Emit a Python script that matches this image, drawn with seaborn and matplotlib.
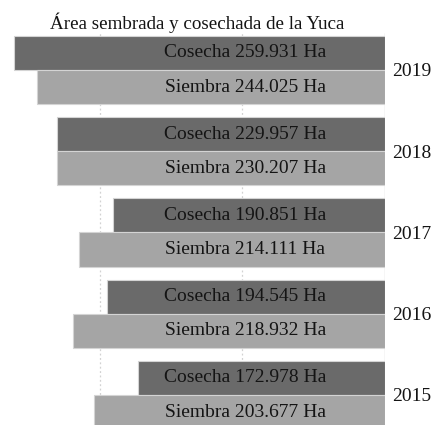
import matplotlib
matplotlib.use("Agg")
import matplotlib.pyplot as plt
import pandas as pd
import seaborn as sns

# Planted and harvested cassava area per year (hectares)
years = ["2019", "2018", "2017", "2016", "2015"]
cosecha = [259931, 229957, 190851, 194545, 172978]
siembra = [244025, 230207, 214111, 218932, 203677]
series = ["Cosecha", "Siembra"]
title = "Área sembrada y cosechada de la Yuca"

df = pd.DataFrame({
    "Año": years * 2,
    "Tipo": ["Cosecha"] * len(years) + ["Siembra"] * len(years),
    "Hectáreas": cosecha + siembra,
})

sns.set_style("white")
plt.rcParams["font.family"] = ["Liberation Serif", "DejaVu Serif"]

fig = plt.figure(figsize=(4.33, 4.25), dpi=100)
ax = fig.add_axes([10 / 433, 0, 375 / 433, 392 / 425])

sns.barplot(
    data=df, y="Año", x="Hectáreas", hue="Tipo",
    order=years, hue_order=series,
    palette={"Cosecha": "#6a6a6a", "Siembra": "#a5a5a5"},
    orient="h", width=0.84, dodge=True, legend=False,
    edgecolor="#d4d4d4", linewidth=0.8, ax=ax, zorder=3,
)

# bars grow leftwards from zero on the right edge
ax.set_xlim(262800, 0)
ax.set_ylim(4.37, -0.455)

# faint dotted guides plus the zero line
for gx in (100000, 200000):
    ax.axvline(gx, color="#d2d2d2", lw=0.9, ls=(0, (1.5, 2)), zorder=1)
ax.axvline(0, color="#d6d6d6", lw=1.0, zorder=1)

# value labels inside the bars
values = {"Cosecha": cosecha, "Siembra": siembra}
for name, container in zip(series, ax.containers):
    for patch, v in zip(container.patches, values[name]):
        yc = patch.get_y() + patch.get_height() / 2
        label = f"{name} {v:,} Ha".replace(",", ".")
        ax.text(98000, yc, label, ha="center", va="center",
                fontsize=14, color="#141414", zorder=4)

ax.yaxis.tick_right()
ax.tick_params(axis="y", length=0, pad=5, labelsize=14, labelcolor="#141414")
ax.set_xticks([])
ax.set_xlabel("")
ax.set_ylabel("")
for s in ax.spines.values():
    s.set_visible(False)

ax.set_title(title, fontsize=13.7, color="#141414", pad=3)

fig.savefig("out.png", dpi=100)
